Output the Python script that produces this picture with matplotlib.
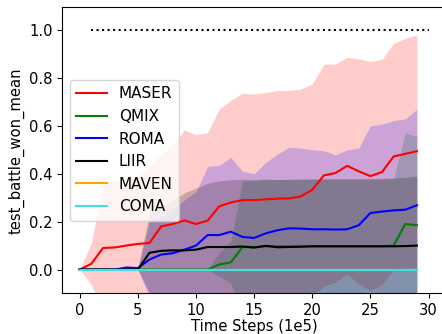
import numpy as np
import matplotlib
matplotlib.use("Agg")
import matplotlib.pyplot as plt

steps = np.arange(30)  # in units of 1e5

# mean win rate of each method
maser_mean = [0.0, 0.024, 0.09, 0.092, 0.10, 0.107, 0.111, 0.18, 0.19, 0.205,
              0.19, 0.204, 0.264, 0.28, 0.29, 0.29, 0.293, 0.296, 0.297, 0.305,
              0.333, 0.393, 0.403, 0.433, 0.41, 0.39, 0.407, 0.472, 0.483, 0.494]
qmix_mean = [0.0, 0.0, 0.0, 0.0, 0.0, 0.0, 0.0, 0.0, 0.0, 0.0,
             0.0, 0.0, 0.021, 0.03, 0.094, 0.092, 0.097, 0.097, 0.097, 0.097,
             0.097, 0.097, 0.097, 0.097, 0.097, 0.097, 0.097, 0.1, 0.19, 0.185]
roma_mean = [0.0, 0.0, 0.0, 0.0, 0.008, 0.006, 0.042, 0.0625, 0.068, 0.083,
             0.10, 0.144, 0.144, 0.158, 0.136, 0.132, 0.151, 0.164, 0.172, 0.171,
             0.168, 0.168, 0.167, 0.168, 0.185, 0.236, 0.242, 0.247, 0.25, 0.268]
liir_mean = [0.0, 0.0, 0.0, 0.0, 0.0, 0.0, 0.07, 0.078, 0.08, 0.08,
             0.083, 0.094, 0.094, 0.094, 0.096, 0.092, 0.099, 0.093, 0.094, 0.095,
             0.097, 0.097, 0.097, 0.097, 0.097, 0.097, 0.097, 0.097, 0.098, 0.1]
maven_mean = [0.0] * 30
coma_mean = [0.0] * 30

# upper edge of the shaded band (mean + std)
maser_upper = [0.0, 0.11, 0.36, 0.37, 0.38, 0.39, 0.43, 0.48, 0.52, 0.583,
               0.5625, 0.572, 0.67, 0.708, 0.736, 0.733, 0.739, 0.747, 0.748, 0.753,
               0.775, 0.857, 0.858, 0.886, 0.88, 0.868, 0.878, 0.945, 0.965, 0.98]
qmix_upper = [0.0, 0.0, 0.0, 0.0, 0.0, 0.0, 0.0, 0.0, 0.0, 0.0,
              0.0, 0.0, 0.07, 0.118, 0.368, 0.372, 0.375, 0.375, 0.376, 0.377,
              0.377, 0.378, 0.378, 0.378, 0.378, 0.378, 0.378, 0.38, 0.57, 0.556]
roma_upper = [0.0, 0.0, 0.0, 0.0, 0.016, 0.012, 0.2, 0.22, 0.25, 0.29,
              0.325, 0.43, 0.435, 0.468, 0.41, 0.40, 0.447, 0.482, 0.51, 0.507,
              0.50, 0.496, 0.479, 0.50, 0.507, 0.60, 0.607, 0.622, 0.629, 0.669]
liir_upper = [0.0, 0.0, 0.0, 0.0, 0.0, 0.0, 0.237, 0.264, 0.29, 0.32,
              0.34, 0.36, 0.37, 0.375, 0.377, 0.375, 0.378, 0.376, 0.377, 0.377,
              0.378, 0.378, 0.378, 0.378, 0.378, 0.379, 0.38, 0.382, 0.385, 0.389]

runs = [
    ("MASER", "red", maser_mean, maser_upper),
    ("QMIX", "green", qmix_mean, qmix_upper),
    ("ROMA", "blue", roma_mean, roma_upper),
    ("LIIR", "black", liir_mean, liir_upper),
    ("MAVEN", "orange", maven_mean, maven_mean),
    ("COMA", "#40e0e0", coma_mean, coma_mean),
]

fig = plt.figure(figsize=(4.42, 3.34), dpi=100)
ax = fig.add_axes([0.141, 0.1213, 0.868, 0.857])

# shaded bands first, then the mean curves on top
for name, color, mean, upper in runs:
    mean = np.array(mean)
    std = np.array(upper) - mean
    ax.fill_between(steps, mean - std, mean + std, color=color, alpha=0.2, linewidth=0)

for name, color, mean, upper in runs:
    ax.plot(steps, mean, color=color, label=name, linewidth=1.5)

ax.hlines(1.0, 1, 30, colors="black", linestyles=":", linewidth=1.5)

ax.set_xlim(-1.5, 31.5)
ax.set_ylim(-0.1, 1.095)
ax.set_xticks([0, 5, 10, 15, 20, 25, 30])
ax.set_yticks([0.0, 0.2, 0.4, 0.6, 0.8, 1.0])
ax.tick_params(labelsize=10.6)
ax.set_xlabel("Time Steps (1e5)", fontsize=10.6, labelpad=0.5)
ax.set_ylabel("test_battle_won_mean", fontsize=10.6, labelpad=3)
ax.legend(loc="center left", fontsize=11)

fig.savefig("out.png", dpi=100)
